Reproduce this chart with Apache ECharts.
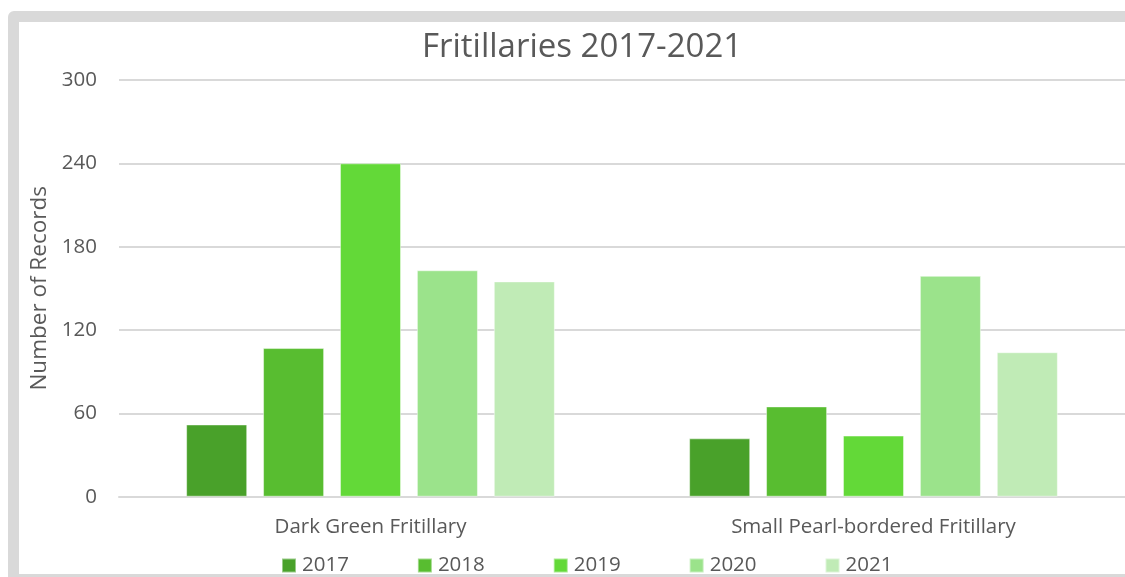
<!DOCTYPE html>
<html>
<head>
<meta charset="utf-8">
<script src="https://cdn.jsdelivr.net/npm/echarts@6/dist/echarts.min.js"></script>
<style>
  html, body { margin: 0; padding: 0; background: #fff; overflow: hidden; }
  #chart { position: absolute; left: 0; top: 0; width: 1125px; height: 577px; }
  #frame {
    position: absolute; left: 8px; top: 11px; width: 1140px; height: 552px;
    border: 11px solid #d9d9d9; border-radius: 6px; pointer-events: none;
  }
</style>
</head>
<body>
<div id="chart"></div>
<div id="frame"></div>
<script>
// Species on the category axis
const species = ['Dark Green Fritillary', 'Small Pearl-bordered Fritillary'];
// Years shown as series
const years = ['2017', '2018', '2019', '2020', '2021'];
// Number of records per year, one value per species
const records2017 = [52, 42];
const records2018 = [107, 65];
const records2019 = [240, 44];
const records2020 = [163, 159];
const records2021 = [155, 104];
// Value axis ticks
const yTicks = [0, 60, 120, 180, 240, 300];

const yearValues = [records2017, records2018, records2019, records2020, records2021];
const yearColors = ['#49a12a', '#58bd30', '#63d938', '#9be38b', '#c0ebb6'];
const textColor = '#595959';
const font = '"Open Sans", sans-serif';

const chart = echarts.init(document.getElementById('chart'));
chart.setOption({
  animation: false,
  backgroundColor: '#fff',
  title: {
    text: 'Fritillaries 2017-2021',
    left: 417,
    top: 26,
    textStyle: { fontFamily: font, fontSize: 33, fontWeight: 'normal', color: textColor }
  },
  legend: {
    data: years,
    left: 276,
    top: 550,
    icon: 'rect',
    itemWidth: 14,
    itemHeight: 14,
    itemGap: 68,
    textStyle: { fontFamily: font, fontSize: 20.5, color: textColor, padding: [0, 0, 0, 1] }
  },
  grid: { left: 119, top: 80, width: 1010, height: 416.7, containLabel: false },
  xAxis: {
    type: 'category',
    data: species,
    axisLine: { lineStyle: { color: '#d9d9d9', width: 2 } },
    axisTick: { show: false },
    axisLabel: { fontFamily: font, fontSize: 20.5, color: textColor, margin: 20 }
  },
  yAxis: {
    type: 'value',
    min: yTicks[0],
    max: yTicks[yTicks.length - 1],
    interval: yTicks[1] - yTicks[0],
    name: 'Number of Records',
    nameLocation: 'middle',
    nameRotate: 90,
    nameGap: 68,
    nameTextStyle: { fontFamily: font, fontSize: 22.5, color: textColor },
    axisLine: { show: false },
    axisTick: { show: false },
    splitLine: { lineStyle: { color: '#d9d9d9', width: 2 } },
    axisLabel: { fontFamily: font, fontSize: 20.5, color: textColor, margin: 22 }
  },
  series: years.map((y, i) => ({
    name: y,
    type: 'bar',
    data: yearValues[i],
    barGap: '26%',
    barCategoryGap: '26.7%',
    itemStyle: { color: yearColors[i], borderColor: 'rgba(255,255,255,0.45)', borderWidth: 1 }
  }))
});
</script>
</body>
</html>
